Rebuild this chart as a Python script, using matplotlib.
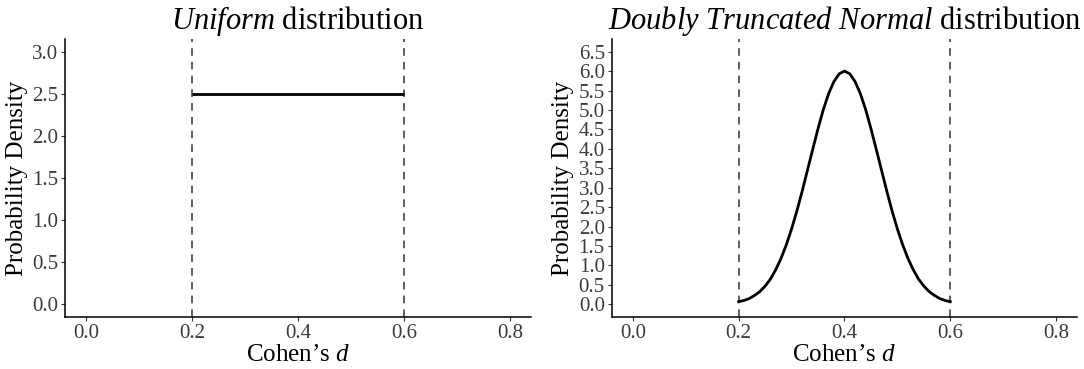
import matplotlib
matplotlib.use("Agg")
import matplotlib.pyplot as plt

plt.rcParams['font.family'] = ['Liberation Serif', 'DejaVu Serif']
plt.rcParams['mathtext.fontset'] = 'custom'
plt.rcParams['mathtext.rm'] = 'Liberation Serif'
plt.rcParams['mathtext.it'] = 'Liberation Serif:italic'

# Data
bounds = [0.2, 0.6]
uniform_x = [0.2, 0.6]
uniform_y = [2.5, 2.5]
tn_x = [0.20, 0.21, 0.22, 0.23, 0.24, 0.25, 0.26, 0.27, 0.28, 0.29, 0.30,
        0.31, 0.32, 0.33, 0.34, 0.35, 0.36, 0.37, 0.38, 0.39, 0.40,
        0.41, 0.42, 0.43, 0.44, 0.45, 0.46, 0.47, 0.48, 0.49, 0.50,
        0.51, 0.52, 0.53, 0.54, 0.55, 0.56, 0.57, 0.58, 0.59, 0.60]
tn_y = [0.07, 0.10, 0.15, 0.23, 0.33, 0.47, 0.65, 0.89, 1.18, 1.53, 1.94,
        2.40, 2.91, 3.45, 3.99, 4.52, 5.01, 5.42, 5.73, 5.93, 6.00,
        5.93, 5.73, 5.42, 5.01, 4.52, 3.99, 3.45, 2.91, 2.40, 1.94,
        1.53, 1.18, 0.89, 0.65, 0.47, 0.33, 0.23, 0.15, 0.10, 0.07]
x_ticks = [0.0, 0.2, 0.4, 0.6, 0.8]
x_ticklabels = ["0.0", "0.2", "0.4", "0.6", "0.8"]
left_yticks = [0.0, 0.5, 1.0, 1.5, 2.0, 2.5, 3.0]
right_yticks = [0.0, 0.5, 1.0, 1.5, 2.0, 2.5, 3.0, 3.5, 4.0, 4.5, 5.0, 5.5, 6.0, 6.5]
titles = [r"$\mathit{Uniform}$ distribution",
          r"$\mathit{Doubly}$ $\mathit{Truncated}$ $\mathit{Normal}$ distribution"]

fig = plt.figure(figsize=(10.84, 3.69), dpi=100)
ax1 = fig.add_axes([0.0598, 0.1409, 0.4301, 0.7534])
ax2 = fig.add_axes([0.5643, 0.1409, 0.4295, 0.7534])

def style(ax, yticks, ylim_top, title):
    ax.set_xlim(-0.04, 0.84)
    ax.set_ylim(-0.05 * ylim_top, ylim_top * 1.05)
    ax.set_xticks(x_ticks)
    ax.set_xticklabels(x_ticklabels)
    ax.set_yticks(yticks)
    ax.set_yticklabels([f"{v:.1f}" for v in yticks])
    for s in ['top', 'right']:
        ax.spines[s].set_visible(False)
    for s in ['left', 'bottom']:
        ax.spines[s].set_linewidth(1.1)
        ax.spines[s].set_color('black')
    ax.tick_params(axis='both', labelsize=15, colors='#333333',
                   length=3, width=0.8, pad=2)
    ax.tick_params(axis='both', labelcolor='#3a3a3a')
    ax.set_xlabel(r"Cohen’s $d$", fontsize=18, labelpad=1)
    ax.set_ylabel("Probability Density", fontsize=18, labelpad=3)
    ax.set_title(title, fontsize=22, pad=7)
    for b in bounds:
        ax.axvline(b, color='#333333', linestyle=(0, (5, 4)), linewidth=1.1)

style(ax1, left_yticks, 3.0, titles[0])
ax1.plot(uniform_x, uniform_y, color='black', linewidth=2.0, solid_capstyle='butt')

style(ax2, right_yticks, 6.5, titles[1])
ax2.plot(tn_x, tn_y, color='black', linewidth=2.0)

fig.savefig("out.png", dpi=100)
